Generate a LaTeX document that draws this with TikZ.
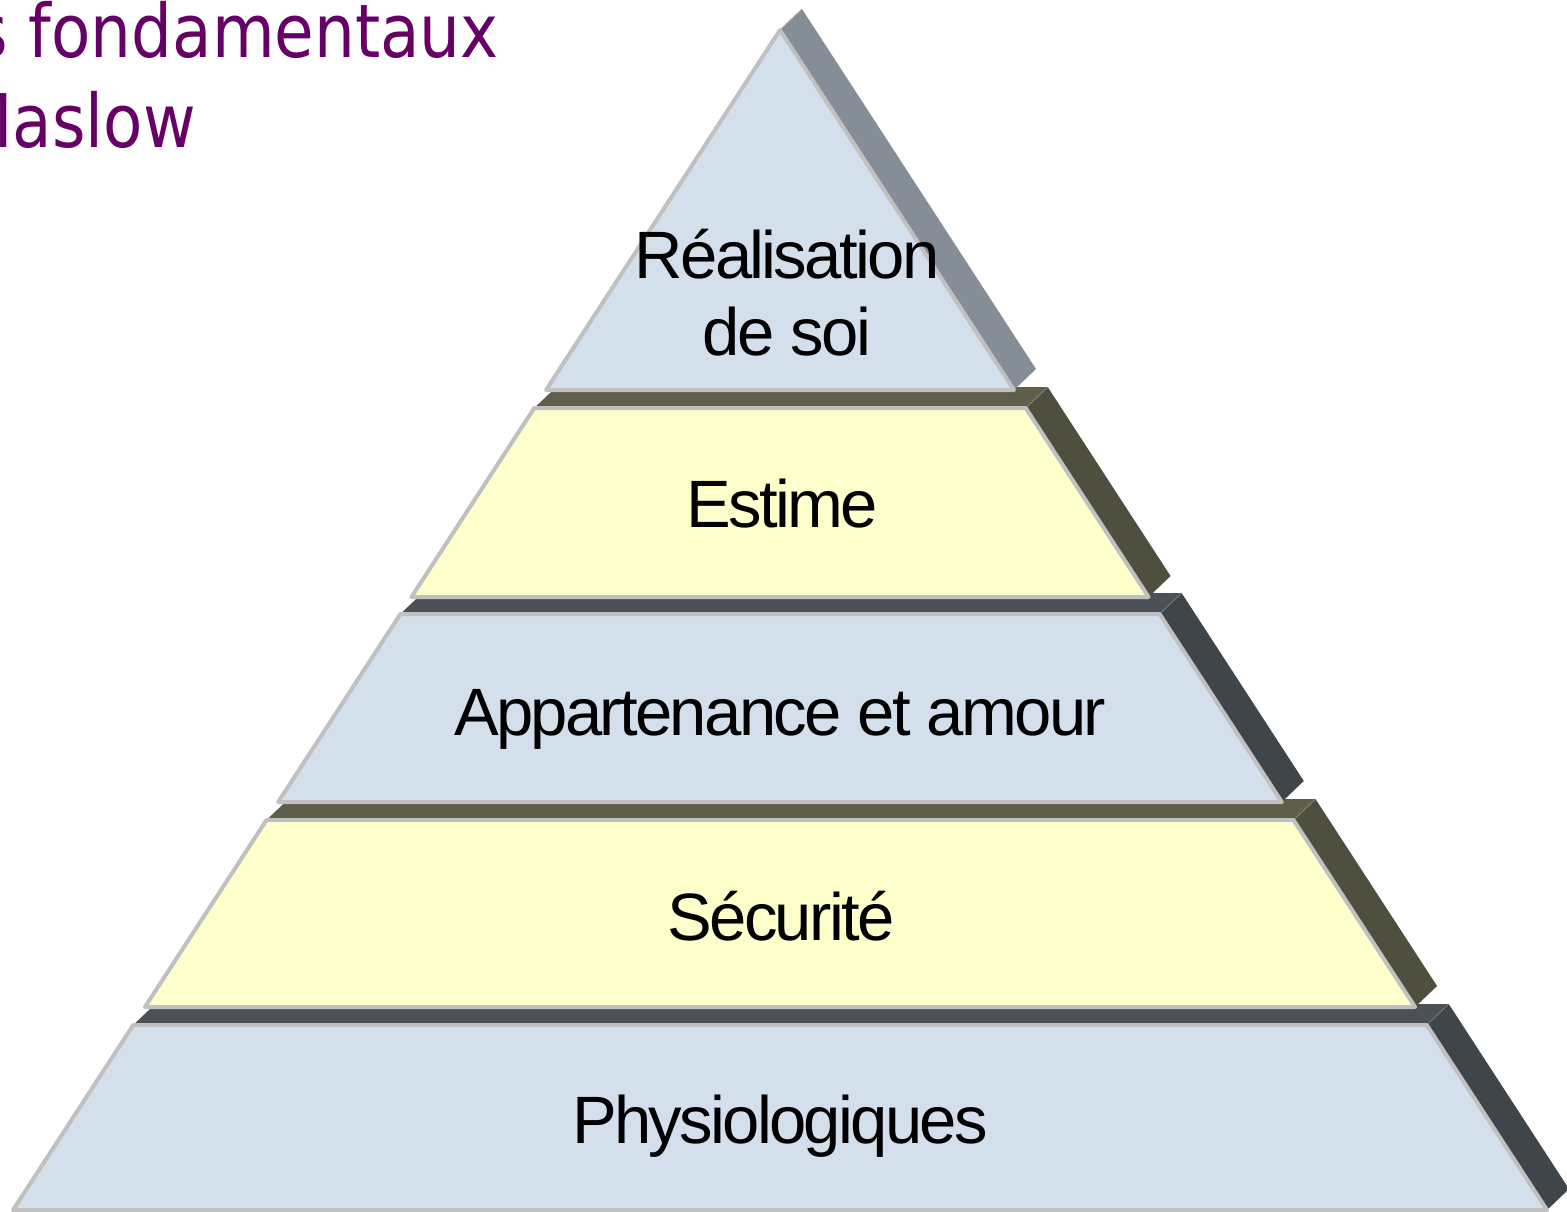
\documentclass[tikz,border=0pt]{standalone}
\usepackage{fontspec}
\setmainfont{Liberation Sans}
\newfontfamily\labelfont[LetterSpace=-4]{Liberation Sans}
\newfontfamily\titlefont[FakeStretch=0.87]{DejaVu Sans}
\usetikzlibrary{calc}
\definecolor{blueface}{HTML}{D3E0EB}
\definecolor{yellowface}{HTML}{FFFFCC}
\definecolor{edgegray}{HTML}{C0C0C0}
\definecolor{apexside}{HTML}{858E96}
\definecolor{olivestrip}{HTML}{5F5E4A}
\definecolor{oliveside}{HTML}{4F4F40}
\definecolor{slatestrip}{HTML}{4B5156}
\definecolor{slateside}{HTML}{3F4549}
\definecolor{titlepurple}{HTML}{660066}
\tikzset{
  frontface/.style={draw=edgegray, line width=4pt, line join=round},
  lvltext/.style={font=\labelfont\fontsize{67}{77}\selectfont, anchor=base, inner sep=0pt, text=black},
  titletext/.style={font=\titlefont\fontsize{74}{90}\selectfont, text=titlepurple, inner sep=0pt},
  creaseline/.style={line width=0.8pt},
}
\newcommand\pyrlayer[6]{%
  \pgfmathsetmacro\pxtl{780-0.65*(#2-30)}%
  \pgfmathsetmacro\pxtr{780+0.65*(#2-30)}%
  \pgfmathsetmacro\pxbl{780-0.65*(#3-30)}%
  \pgfmathsetmacro\pxbr{780+0.65*(#3-30)}%
  \coordinate (#1tl) at (\pxtl,#2);
  \coordinate (#1tr) at (\pxtr,#2);
  \coordinate (#1bl) at (\pxbl,#3);
  \coordinate (#1br) at (\pxbr,#3);
  \coordinate (#1btl) at ($(#1tl)+(22,-21)$);
  \coordinate (#1btr) at ($(#1tr)+(22,-21)$);
  \coordinate (#1bbr) at ($(#1br)+(22,-21)$);
  \fill[#5] (#1tl) -- (#1tr) -- (#1btr) -- (#1btl) -- cycle;
  \fill[#6] (#1tr) -- (#1br) -- (#1bbr) -- (#1btr) -- cycle;
  \draw[creaseline, #5!75!white] (#1tr) -- (#1btr);
  \draw[frontface, fill=#4] (#1tl) -- (#1tr) -- (#1br) -- (#1bl) -- cycle;
}
\begin{document}
\begin{tikzpicture}[x=1pt, y=-1pt]
  \useasboundingbox (0,0) rectangle (1567,1212);
  \fill[white] (0,0) rectangle (1567,1212);
  \clip (0,0) rectangle (1567,1212);

  % title (partly outside the page on the left)
  \node[titletext, anchor=base east] (title1) at (499,58) {Besoins fondamentaux};
  \node[titletext, anchor=base west] (title2) at ([xshift=6pt,yshift=-90pt]title1.base west) {selon Maslow};

  % pyramid layers, bottom first
  \pyrlayer{phys}{1025}{1210}{blueface}{slatestrip}{slateside}
  \pyrlayer{secu}{820}{1007}{yellowface}{olivestrip}{oliveside}
  \pyrlayer{appa}{614}{802}{blueface}{slatestrip}{slateside}
  \pyrlayer{esti}{408}{597}{yellowface}{olivestrip}{oliveside}
  \pyrlayer{real}{30}{390}{blueface}{apexside}{apexside}

  \node[lvltext] (physlabel) at (780,1143) {Physiologiques};
  \node[lvltext] (seculabel) at (781,940) {Sécurité};
  \node[lvltext] (appalabel) at (780,735) {Appartenance et amour};
  \node[lvltext] (estilabel) at (782,527) {Estime};
  \node[lvltext, align=center] (reallabel) at (787,355) {Réalisation\\de soi};
\end{tikzpicture}
\end{document}
